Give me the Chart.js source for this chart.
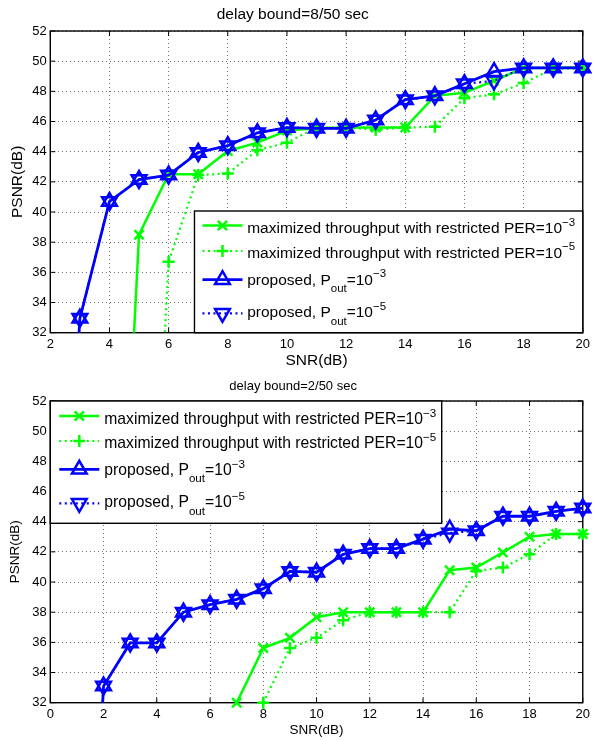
<!DOCTYPE html>
<html>
<head>
<meta charset="utf-8">
<script src="https://cdn.jsdelivr.net/npm/chart.js@4.4.1/dist/chart.umd.min.js"></script>
<style>
html,body{margin:0;padding:0;background:#fff;}
canvas{display:block;}
</style>
</head>
<body>
<canvas id="c1" width="594" height="370"></canvas>
<canvas id="c2" width="594" height="370"></canvas>
<script>
// ---------------- data ----------------
const titleTop = 'delay bound=8/50 sec';
const titleBottom = 'delay bound=2/50 sec';
const xAxisTitle = 'SNR(dB)';
const yAxisTitle = 'PSNR(dB)';

// top panel (delay bound 8/50 s)
const snrTop = [2,3,4,5,6,7,8,9,10,11,12,13,14,15,16,17,18,19,20];
const topGreenPer3 = [null,null,0,38.5,42.5,42.5,44.05,44.6,45.4,45.55,45.6,45.6,45.6,47.7,47.9,48.7,49.55,49.55,49.6];
const topGreenPer5 = [null,null,null,0,36.7,42.45,42.55,44.1,44.6,45.6,45.6,45.45,45.6,45.65,47.55,47.8,48.55,49.5,49.5];
const topBluePout3 = [0,32.95,40.7,42.15,42.45,43.95,44.4,45.25,45.6,45.55,45.55,46.1,47.45,47.7,48.5,49.3,49.55,49.55,49.55];
const topBluePout5 = [0,32.95,40.7,42.15,42.45,43.95,44.4,45.25,45.6,45.55,45.55,46.1,47.45,47.7,48.5,48.7,49.55,49.55,49.55];

// bottom panel (delay bound 2/50 s)
const snrBottom = [1,2,3,4,5,6,7,8,9,10,11,12,13,14,15,16,17,18,19,20];
const botGreenPer3 = [null,null,null,null,null,null,32.0,35.62,36.3,37.67,38.0,38.0,38.0,38.0,40.78,40.96,41.96,43.0,43.18,43.18];
const botGreenPer5 = [null,null,null,null,null,null,null,32.0,35.62,36.3,37.47,38.0,38.0,38.0,38.0,40.73,40.96,41.84,43.18,43.18];
const botBluePout3 = [0,33.1,35.96,35.96,38.0,38.5,38.85,39.56,40.7,40.65,41.84,42.22,42.22,42.84,43.5,43.4,44.36,44.36,44.69,44.9];
const botBluePout5 = [0,33.1,35.96,35.96,38.0,38.5,38.85,39.56,40.7,40.65,41.84,42.22,42.22,42.84,43.25,43.4,44.36,44.36,44.69,44.9];

// axis ranges / tick step
const yMin = 32, yMax = 52, tickStep = 2;
const xTopMin = 2, xBottomMin = 0, xMax = 20;

// legend labels (rich text parts)
const legendLabels = [
  [['maximized throughput with restricted PER=10','n'],['\u22123','sup']],
  [['maximized throughput with restricted PER=10','n'],['\u22125','sup']],
  [['proposed, P','n'],['out','sub'],['=10','n'],['\u22123','sup']],
  [['proposed, P','n'],['out','sub'],['=10','n'],['\u22125','sup']]
];
const plainLabels = legendLabels.map(p => p.map(q => q[1]==='sup' ? '^' + q[0] : (q[1]==='sub' ? '_' + q[0] : q[0])).join(''));

// ---------------- rendering ----------------
const FONT = '"Liberation Sans", Arial, Helvetica, sans-serif';
Chart.defaults.font.family = FONT;
Chart.defaults.color = '#000';
const GREEN = '#00ff00', BLUE = '#0000ff';

function series(xs, ys){ return xs.map((x,i)=>({x:x, y:ys[i]})).filter(p => p.y !== null); }

function makeDatasets(xs, g3, g5, b3, b5, greenClip, blueClip){
  return [
    {label: plainLabels[0], data: series(xs,g3), borderColor: GREEN, backgroundColor:'rgba(0,0,0,0)',
     borderWidth:2.5, pointStyle:'crossRot', pointRadius:6.5, pointBorderWidth:2.5,
     pointBorderColor: GREEN, pointBackgroundColor:'rgba(0,0,0,0)', order:3, clip: greenClip},
    {label: plainLabels[1], data: series(xs,g5), borderColor: GREEN, backgroundColor:'rgba(0,0,0,0)',
     borderWidth:2.2, borderDash:[2,3.5], pointStyle:'cross', pointRadius:6, pointBorderWidth:2.5,
     pointBorderColor: GREEN, pointBackgroundColor:'rgba(0,0,0,0)', order:2, clip: greenClip},
    {label: plainLabels[2], data: series(xs,b3), borderColor: BLUE, backgroundColor:'rgba(0,0,0,0)',
     borderWidth:2.8, pointStyle:'triangle', pointRadius:8.5, pointBorderWidth:2.5,
     pointBorderColor: BLUE, pointBackgroundColor:'rgba(0,0,0,0)', order:1, clip: blueClip},
    {label: plainLabels[3], data: series(xs,b5), borderColor: BLUE, backgroundColor:'rgba(0,0,0,0)',
     borderWidth:2.2, borderDash:[2,3.5], pointStyle:'triangle', pointRotation:180, pointRadius:8.5, pointBorderWidth:2.5,
     pointBorderColor: BLUE, pointBackgroundColor:'rgba(0,0,0,0)', order:0, clip: blueClip}
  ];
}

const framePlugin = {
  id: 'frame',
  beforeDatasetsDraw(chart){
    const {ctx, chartArea:a, scales:{x, y}} = chart;
    const L = 5;
    ctx.save();
    ctx.setLineDash([]);
    ctx.strokeStyle = '#000';
    ctx.lineWidth = 1;
    ctx.beginPath();
    x.ticks.forEach(t => { const px = x.getPixelForValue(t.value);
      ctx.moveTo(px, a.bottom); ctx.lineTo(px, a.bottom - L);
      ctx.moveTo(px, a.top); ctx.lineTo(px, a.top + L); });
    y.ticks.forEach(t => { const py = y.getPixelForValue(t.value);
      ctx.moveTo(a.left, py); ctx.lineTo(a.left + L, py);
      ctx.moveTo(a.right, py); ctx.lineTo(a.right - L, py); });
    ctx.stroke();
    ctx.lineWidth = 1.4;
    ctx.strokeRect(a.left, a.top, a.right - a.left, a.bottom - a.top);
    ctx.restore();
  }
};

function drawRich(ctx, parts, x, B, fs){
  let cx = x;
  parts.forEach(([txt, kind]) => {
    const size = kind === 'n' ? fs : fs * 0.74;
    const dy = kind === 'sup' ? -0.47 * fs : (kind === 'sub' ? 0.47 * fs : 0);
    ctx.font = size + 'px ' + FONT;
    ctx.fillText(txt, cx, B + dy);
    cx += ctx.measureText(txt).width;
  });
}

const legendPlugin = {
  id: 'matlabLegend',
  afterDatasetsDraw(chart, args, o){
    const {ctx, chartArea:a} = chart;
    const x0 = o.anchor === 'bottomRight' ? a.right - o.width : a.left;
    const y0 = o.anchor === 'bottomRight' ? a.bottom - o.height : a.top;
    ctx.save();
    ctx.setLineDash([]);
    ctx.fillStyle = '#fff';
    ctx.fillRect(x0, y0, o.width, o.height);
    ctx.strokeStyle = '#000';
    ctx.lineWidth = 1.4;
    ctx.strokeRect(x0, y0, o.width, o.height);
    chart.data.datasets.forEach((ds, i) => {
      const yy = y0 + o.iconRows[i];
      ctx.save();
      ctx.strokeStyle = ds.borderColor;
      ctx.lineWidth = ds.borderWidth;
      ctx.setLineDash(ds.borderDash || []);
      ctx.beginPath();
      ctx.moveTo(x0 + o.lineStart, yy);
      ctx.lineTo(x0 + o.lineEnd, yy);
      ctx.stroke();
      ctx.setLineDash([]);
      ctx.fillStyle = 'rgba(0,0,0,0)';
      ctx.strokeStyle = ds.pointBorderColor;
      ctx.lineWidth = ds.pointBorderWidth;
      Chart.helpers.drawPoint(ctx, {pointStyle: ds.pointStyle, rotation: ds.pointRotation || 0,
        radius: ds.pointRadius, borderWidth: ds.pointBorderWidth}, x0 + (o.lineStart + o.lineEnd) / 2, yy);
      ctx.restore();
      ctx.fillStyle = '#000';
      ctx.textBaseline = 'alphabetic';
      ctx.textAlign = 'left';
      drawRich(ctx, legendLabels[i], x0 + o.textX, y0 + o.textRows[i], o.fontSize);
    });
    ctx.restore();
  }
};

function makeChart(id, cfg){
  return new Chart(document.getElementById(id), {
    type: 'line',
    data: { datasets: makeDatasets(cfg.xs, cfg.g3, cfg.g5, cfg.b3, cfg.b5, cfg.greenClip, cfg.blueClip) },
    options: {
      responsive: false,
      devicePixelRatio: 1,
      animation: false,
      events: [],
      layout: { padding: { left: 0, right: cfg.padRight, top: 0, bottom: 0 } },
      elements: { line: { tension: 0 } },
      scales: {
        x: {
          type: 'linear', min: cfg.xMin, max: xMax,
          ticks: { stepSize: tickStep, padding: 4, font: { size: 13 }, color: '#000', maxRotation: 0 },
          grid: { color: 'rgba(0,0,0,0.55)', lineWidth: 1, drawTicks: false },
          border: { display: false, dash: [1, 3] },
          title: { display: true, text: xAxisTitle, font: { size: cfg.axisFont }, color: '#000',
                   padding: { top: 0, bottom: cfg.xTitlePadBottom } },
          afterFit: s => { s.height = 37.3; }
        },
        y: {
          type: 'linear', min: yMin, max: yMax,
          ticks: { stepSize: tickStep, padding: 3.6, font: { size: 13 }, color: '#000' },
          grid: { color: 'rgba(0,0,0,0.55)', lineWidth: 1, drawTicks: false },
          border: { display: false, dash: [1, 3] },
          title: { display: true, text: yAxisTitle, font: { size: cfg.axisFont }, color: '#000',
                   padding: { top: cfg.yTitlePadTop, bottom: 0 } },
          afterFit: s => { s.width = 50.3; }
        }
      },
      plugins: {
        legend: { display: false },
        tooltip: { enabled: false },
        title: { display: true, text: cfg.title, color: '#000',
                 font: { size: cfg.titleFont, weight: 'normal' },
                 padding: { top: cfg.titlePadTop, bottom: cfg.titlePadBottom } },
        matlabLegend: cfg.legend
      }
    },
    plugins: [framePlugin, legendPlugin]
  });
}

const clipLow = {left:14, right:14, top:14, bottom:0};
const clipAll = {left:14, right:14, top:14, bottom:14};

makeChart('c1', {
  xs: snrTop, g3: topGreenPer3, g5: topGreenPer5, b3: topBluePout3, b5: topBluePout5,
  greenClip: clipLow, blueClip: clipLow,
  xMin: xTopMin, padRight: 8.4, axisFont: 15.5, xTitlePadBottom: 0, yTitlePadTop: 8,
  title: titleTop, titleFont: 15.5, titlePadTop: 5.7, titlePadBottom: 6.7,
  legend: { anchor: 'bottomRight', width: 388.3, height: 121.7, lineStart: 8, lineEnd: 48,
            textX: 52.7, fontSize: 15.5, iconRows: [14.5, 40, 68.7, 102.3], textRows: [22, 46.5, 73.5, 106.3] }
});

makeChart('c2', {
  xs: snrBottom, g3: botGreenPer3, g5: botGreenPer5, b3: botBluePout3, b5: botBluePout5,
  greenClip: clipAll, blueClip: clipLow,
  xMin: xBottomMin, padRight: 7.7, axisFont: 13.5, xTitlePadBottom: 1.9, yTitlePadTop: 7,
  title: titleBottom, titleFont: 13, titlePadTop: 8.9, titlePadBottom: 6.5,
  legend: { anchor: 'topLeft', width: 391.4, height: 122.3, lineStart: 9, lineEnd: 49,
            textX: 54, fontSize: 15.7, iconRows: [15, 40, 68.3, 102.3], textRows: [23, 47.3, 74, 106.3] }
});
</script>
</body>
</html>
